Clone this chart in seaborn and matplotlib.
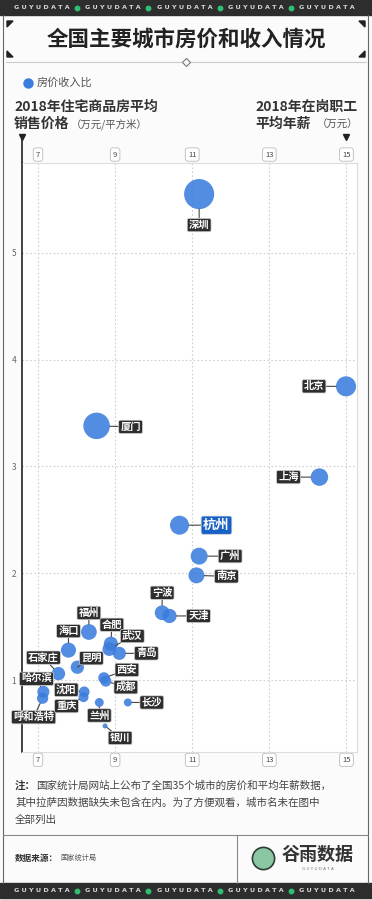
import numpy as np
import pandas as pd
import matplotlib.pyplot as plt
import seaborn as sns
from matplotlib.lines import Line2D
from matplotlib.patches import Rectangle, Polygon

# 数据
ciudades = ["深圳", "北京", "厦门", "上海", "杭州", "广州", "南京", "宁波", "天津",
            "福州", "合肥", "武汉", "青岛", "海口", "昆明", "石家庄", "哈尔滨",
            "呼和浩特", "西安", "成都", "沈阳", "重庆", "兰州", "长沙", "银川"]
salario = [11.18, 14.99, 8.52, 14.30, 10.67, 11.18, 11.11, 10.22, 10.41,
           8.32, 8.89, 8.85, 9.11, 7.79, 8.02, 7.53, 7.14,
           7.12, 8.71, 8.76, 8.20, 8.18, 8.59, 9.33, 8.74]
precio = [5.55, 3.75, 3.38, 2.90, 2.45, 2.16, 1.98, 1.63, 1.60,
          1.45, 1.34, 1.29, 1.25, 1.28, 1.12, 1.06, 0.89,
          0.83, 1.02, 0.99, 0.89, 0.84, 0.79, 0.79, 0.57]
ratio = [44.7, 22.5, 35.7, 18.3, 20.7, 17.4, 16.0, 14.4, 13.8,
         15.7, 13.6, 13.1, 12.4, 14.8, 12.6, 12.7, 11.2,
         10.4, 10.5, 10.2, 9.8, 9.2, 8.3, 7.6, 5.9]
xticks = [7, 9, 11, 13, 15]
yticks = [1, 2, 3, 4, 5]

df = pd.DataFrame({"城市": ciudades, "年薪": salario, "房价": precio, "房价收入比": ratio})

# posicion de las etiquetas (px respecto al punto)
offsets = {"深圳": (0, -31), "北京": (-32, 0), "厦门": (34, -1), "上海": (-31, 0),
           "杭州": (37, 0), "广州": (31, 0), "南京": (30, -1), "宁波": (0, 20),
           "天津": (29, 0), "福州": (0, 19), "合肥": (1, 19), "武汉": (23, 13),
           "青岛": (27, 0), "海口": (0, 19), "昆明": (14, 9), "石家庄": (-15, 16),
           "哈尔滨": (-7, 13), "呼和浩特": (-9, -19), "西安": (23, 8), "成都": (20, -6),
           "沈阳": (-18, 2), "重庆": (-17, -9), "兰州": (0, -13), "长沙": (24, 0),
           "银川": (15, -12)}

sns.set_style("white")
plt.rcParams["font.family"] = ["Noto Sans CJK SC", "DejaVu Sans"]

W, H = 372, 900


def fx(x):
    return x / W


def fy(y):
    return 1 - y / H


fig = plt.figure(figsize=(3.72, 9), dpi=100, facecolor="#fbfbfb")

# Bandas superior e inferior
for y0 in [0, 883]:
    fig.add_artist(Rectangle((0, fy(y0 + 15)), 1, 15 / H, transform=fig.transFigure,
                             color="#2d2d2d", zorder=0))
    for cx in [42, 113, 185, 256, 327]:
        fig.text(fx(cx), fy(y0 + 7.5), "G U Y U D A T A", color="#d8d8d8", fontsize=4.6,
                 ha="center", va="center", family="DejaVu Sans", fontweight="bold")
    for cx in [77, 148, 220, 291]:
        fig.add_artist(Line2D([fx(cx)], [fy(y0 + 7.5)], marker="o", markersize=3.2,
                              color="#2fbf71", transform=fig.transFigure))

# marco
for x0 in [3, 368]:
    fig.add_artist(Line2D([fx(x0), fx(x0)], [fy(15), fy(883)], color="#666666", lw=0.8,
                          transform=fig.transFigure))

# titulo
fig.text(fx(186), fy(40), "全国主要城市房价和收入情况", fontsize=15.5, fontweight="bold",
         color="#222222", ha="center", va="center")
for (cx, cy, sx, sy) in [(7, 21, 1, 1), (365, 21, -1, 1), (7, 57, 1, -1), (365, 57, -1, -1)]:
    pts = [(fx(cx), fy(cy)), (fx(cx + 6 * sx), fy(cy)), (fx(cx), fy(cy + 6 * sy))]
    fig.add_artist(Polygon(pts, closed=True, color="#222222", transform=fig.transFigure))
fig.add_artist(Line2D([fx(6), fx(366)], [fy(62), fy(62)], color="#cccccc", lw=0.8,
                      transform=fig.transFigure))
fig.add_artist(Line2D([fx(186)], [fy(62)], marker="D", markersize=4, color="#fbfbfb",
                      markeredgecolor="#777777", markeredgewidth=0.8, transform=fig.transFigure))

# leyenda
fig.add_artist(Line2D([fx(28)], [fy(83)], marker="o", markersize=6.5, color="#3b7ddd",
                      transform=fig.transFigure))
fig.text(fx(37), fy(83), "房价收入比", fontsize=8, color="#555555", va="center")

# titulos de ejes
fig.text(fx(14), fy(107), "2018年住宅商品房平均", fontsize=10, fontweight="bold",
         color="#333333", va="center")
fig.text(fx(14), fy(124), "销售价格", fontsize=10, fontweight="bold", color="#333333", va="center")
fig.text(fx(71), fy(124.5), "（万元/平方米）", fontsize=7.5, color="#555555", va="center")
fig.text(fx(358), fy(107), "2018年在岗职工", fontsize=10, fontweight="bold",
         color="#333333", va="center", ha="right")
fig.text(fx(358), fy(124.5), "（万元）", fontsize=7.5, color="#555555", va="center", ha="right")
fig.text(fx(311), fy(124), "平均年薪", fontsize=10, fontweight="bold", color="#333333",
         va="center", ha="right")
for cx in [21.7, 346]:
    fig.add_artist(Line2D([fx(cx)], [fy(137)], marker="v", markersize=4, color="#222222",
                          transform=fig.transFigure))
fig.add_artist(Line2D([fx(21.7), fx(21.7)], [fy(139), fy(163)], color="#222222", lw=1.2,
                      transform=fig.transFigure))

# Grafico de burbujas
ax = fig.add_axes([fx(21.7), fy(751.7), 335 / W, 589 / H])
ax.set_facecolor("white")
sns.scatterplot(data=df, x="年薪", y="房价", size="房价收入比", sizes=(13, 470),
                size_norm=(5.9, 44.7), color="#3b7ddd", alpha=0.88, linewidth=0,
                legend=False, ax=ax, zorder=3)
ax.set_xlim(6.577, 15.267)
ax.set_ylim(0.329, 5.844)
ax.set_xticks(xticks)
ax.set_yticks(yticks)
ax.set_xlabel("")
ax.set_ylabel("")
ax.grid(True, color="#cfcfcf", linestyle=(0, (1.5, 2)), lw=0.8)
for lado in ["top", "right", "bottom"]:
    ax.spines[lado].set_color("#dddddd")
    ax.spines[lado].set_linewidth(0.8)
ax.spines["left"].set_color("#222222")
ax.spines["left"].set_linewidth(1.2)
ax.tick_params(axis="x", top=True, labeltop=True, bottom=True, labelbottom=True,
               length=0, pad=3, labelsize=5.5, labelcolor="#444444")
ax.tick_params(axis="y", length=0, pad=4, labelsize=6, labelcolor="#666666")
for t in ax.xaxis.get_major_ticks():
    for lab in [t.label1, t.label2]:
        lab.set_bbox(dict(boxstyle="round,pad=0.35", fc="white", ec="#bbbbbb", lw=0.6))

# etiquetas de ciudades
for _, fila in df.iterrows():
    s = 13 + (fila["房价收入比"] - 5.9) / (44.7 - 5.9) * 457
    dx, dy = offsets[fila["城市"]]
    if fila["城市"] == "杭州":
        fs, fc = 9.5, "#1862c6"
    else:
        fs, fc = 7.4, "#2e2e2e"
    ax.annotate(fila["城市"], xy=(fila["年薪"], fila["房价"]), xytext=(dx * 0.72, dy * 0.72),
                textcoords="offset points", ha="center", va="center", fontsize=fs,
                color="white", fontweight="bold", zorder=5,
                bbox=dict(boxstyle="round,pad=0.16", fc=fc, ec="#d5d5d5", lw=0.5),
                arrowprops=dict(arrowstyle="-", color="#444444", lw=0.8, shrinkA=0,
                                shrinkB=np.sqrt(s) / 2))

# nota y fuente
fig.text(fx(15), fy(786), "注：", fontsize=7.6, fontweight="bold", color="#333333", va="center")
fig.text(fx(36), fy(786), "国家统计局网站上公布了全国35个城市的房价和平均年薪数据，",
         fontsize=7.6, color="#444444", va="center")
fig.text(fx(15), fy(803), "其中拉萨因数据缺失未包含在内。为了方便观看，城市名未在图中",
         fontsize=7.6, color="#444444", va="center")
fig.text(fx(15), fy(820), "全部列出", fontsize=7.6, color="#444444", va="center")
fig.add_artist(Line2D([fx(3), fx(368)], [fy(835), fy(835)], color="#888888", lw=0.8,
                      transform=fig.transFigure))
fig.add_artist(Line2D([fx(237), fx(237)], [fy(835), fy(883)], color="#888888", lw=0.8,
                      transform=fig.transFigure))
fig.text(fx(15), fy(858), "数据来源：", fontsize=6.2, fontweight="bold", color="#333333",
         va="center")
fig.text(fx(60), fy(858), "国家统计局", fontsize=5.2, color="#555555", va="center")

# logo
fig.add_artist(Line2D([fx(263)], [fy(858)], marker="o", markersize=16, color="#8cc7a4",
                      markeredgecolor="#2d3d33", markeredgewidth=1.2, transform=fig.transFigure))
fig.text(fx(282), fy(854), "谷雨数据", fontsize=13, fontweight="bold", color="#333333",
         va="center")
fig.text(fx(318), fy(869), "G U Y U D A T A", fontsize=3, color="#777777", va="center",
         ha="center", family="DejaVu Sans")

fig.savefig("out.png", dpi=100, facecolor=fig.get_facecolor())
